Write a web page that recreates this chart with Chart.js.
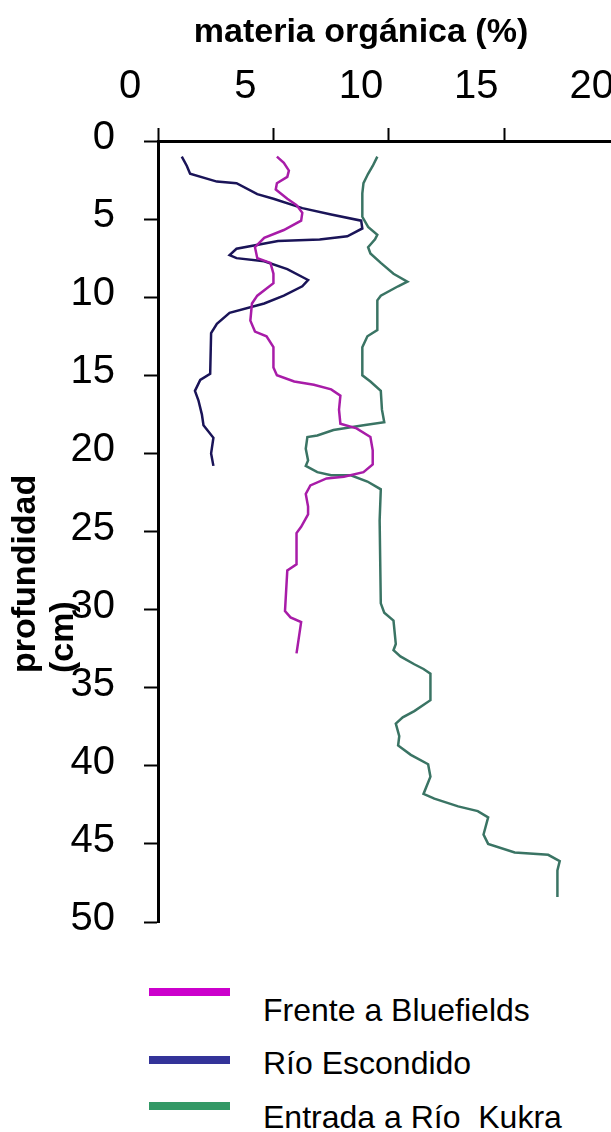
<!DOCTYPE html>
<html>
<head>
<meta charset="utf-8">
<script src="https://cdn.jsdelivr.net/npm/chart.js@4.4.1/dist/chart.umd.min.js"></script>
<style>
    body { margin: 0; background: #fff; width: 611px; height: 1132px; overflow: hidden; position: relative; }
    #wrap { position: absolute; left: 0; top: 0; }
    .swatch { position: absolute; left: 149px; width: 81px; height: 8px; }
    .label { position: absolute; left: 263px; font: 32px/32px "Liberation Sans", Arial, sans-serif; color: #000; white-space: pre; }
</style>
</head>
<body>
<div id="wrap"><canvas id="moChart" width="659" height="975"></canvas></div>

<div class="swatch" style="top:988px; background:#cc00cc"></div>
<div class="label" style="top:994px">Frente a Bluefields</div>
<div class="swatch" style="top:1056px; background:#333399"></div>
<div class="label" style="top:1047px">Río Escondido</div>
<div class="swatch" style="top:1102px; background:#339966"></div>
<div class="label" style="top:1101px">Entrada a Río  Kukra</div>

<script>
'use strict'

// profundidad (cm) y materia orgánica (%) por estación
const bluefieldsDepth = [1.0, 1.4, 1.9, 2.3, 2.7, 3.1, 3.7, 4.1, 4.6, 5.1, 5.7, 6.2, 6.8, 7.5, 7.8, 8.5, 9.1, 9.9, 10.4, 11.5,
    12.2, 12.5, 13.2, 14.5, 15.0, 15.4, 15.6, 15.9, 16.3, 17.2, 18.1, 18.4, 18.95, 19.8, 20.7, 21.2, 21.5, 21.6, 22.05, 22.6,
    23.4, 23.9, 24.7, 25.1, 27.1, 27.5, 30.1, 30.5, 30.8, 32.8];
const bluefieldsMO = [5.15, 5.45, 5.67, 5.6, 5.15, 5.1, 5.6, 6.0, 6.25, 6.2, 5.45, 4.6, 4.2, 4.3, 4.87, 5.0, 5.0, 4.3, 4.07, 4.0,
    4.2, 4.7, 5.0, 5.0, 5.15, 5.9, 6.75, 7.5, 7.9, 7.84, 7.9, 8.6, 9.2, 9.3, 9.3, 8.9, 8.05, 7.3, 6.6, 6.4,
    6.5, 6.5, 6.2, 6.0, 6.0, 5.6, 5.5, 5.74, 6.2, 6.0];

const escondidoDepth = [1.0, 1.6, 2.1, 2.6, 2.7, 3.4, 3.7, 4.3, 4.7, 5.1, 5.6, 6.1, 6.3, 6.4, 6.9, 7.3, 7.5, 7.7, 8.2, 8.9,
    9.3, 9.9, 10.4, 11.0, 11.7, 12.3, 14.9, 15.3, 16.0, 16.6, 17.5, 18.2, 19.0, 20.0, 20.8];
const escondidoMO = [1.03, 1.25, 1.39, 2.55, 3.4, 4.3, 5.0, 6.25, 7.5, 8.8, 8.85, 8.2, 7.0, 5.2, 3.4, 3.1, 3.4, 4.6, 5.6, 6.5,
    6.25, 5.45, 4.6, 3.1, 2.55, 2.3, 2.26, 1.83, 1.6, 1.75, 1.9, 1.97, 2.4, 2.3, 2.4];

const kukraDepth = [1.0, 1.6, 2.1, 2.7, 3.35, 4.85, 5.5, 6.0, 6.3, 6.8, 7.2, 7.8, 8.5, 9.0, 9.3, 9.9, 10.2, 12.1, 12.5, 13.2,
    15.0, 15.4, 16.0, 17.2, 18.0, 18.2, 18.5, 18.85, 18.95, 19.7, 20.45, 20.8, 21.2, 21.4, 21.4, 21.8, 22.3, 24.3, 29.6, 30.2,
    30.7, 32.2, 32.6, 33.0, 33.5, 33.8, 34.1, 35.8, 36.5, 36.9, 37.3, 38.1, 38.7, 39.3, 39.9, 40.7, 41.8, 42.1, 42.6, 42.9,
    43.3, 44.4, 45.0, 45.55, 45.7, 46.1, 46.7, 47.8, 48.4];
const kukraMO = [9.5, 9.3, 9.1, 8.9, 8.85, 8.85, 9.1, 9.5, 9.4, 9.1, 9.2, 9.65, 10.2, 10.8, 10.4, 9.65, 9.5, 9.5, 9.07, 8.85,
    8.85, 9.2, 9.65, 9.7, 9.8, 8.9, 7.6, 6.9, 6.47, 6.4, 6.5, 6.4, 6.9, 7.5, 8.35, 9.07, 9.65, 9.6, 9.65, 9.8,
    10.2, 10.3, 10.2, 10.5, 11.1, 11.5, 11.8, 11.8, 11.1, 10.6, 10.3, 10.45, 10.4, 10.95, 11.7, 11.8, 11.5, 11.97, 13.0, 13.85,
    14.3, 14.1, 14.3, 15.45, 16.9, 17.4, 17.3, 17.3, 17.3];

const moTicks = [0, 5, 10, 15, 20];
const depthTicks = [0, 5, 10, 15, 20, 25, 30, 35, 40, 45, 50];

function toPoints(depth, mo) {
    return depth.map((d, i) => ({ x: mo[i], y: d }));
}

const tickFont = { family: '"Liberation Sans", Arial, sans-serif', size: 40 };

// titulos de los ejes, dibujados a mano para poder colocarlos
const axisTitles = {
    id: 'axisTitles',
    afterDraw(chart) {
        const ctx = chart.ctx;
        ctx.save();
        ctx.fillStyle = '#000';
        ctx.font = 'bold 34px "Liberation Sans", Arial, sans-serif';
        ctx.textAlign = 'center';
        ctx.textBaseline = 'alphabetic';
        ctx.fillText('materia orgánica (%)', 361, 42);

        ctx.translate(35, 673);
        ctx.rotate(-Math.PI / 2);
        ctx.textAlign = 'left';
        ctx.fillText('profundidad', 0, 0);
        ctx.fillText('(cm)', 0, 38);
        ctx.restore();
    }
};

function lineSet(label, data, color) {
    return {
        label: label,
        data: data,
        showLine: true,
        borderColor: color,
        backgroundColor: color,
        borderWidth: 2.5,
        pointRadius: 0,
        tension: 0,
        fill: false
    };
}

const ctx = document.getElementById('moChart').getContext('2d');

new Chart(ctx, {
    type: 'scatter',
    data: {
        datasets: [
            lineSet('Frente a Bluefields', toPoints(bluefieldsDepth, bluefieldsMO), '#a81ca8'),
            lineSet('Río Escondido', toPoints(escondidoDepth, escondidoMO), '#1a1458'),
            lineSet('Entrada a Río  Kukra', toPoints(kukraDepth, kukraMO), '#3a7464')
        ]
    },
    options: {
        responsive: false,
        animation: false,
        layout: { padding: { top: 40, left: 0, right: 0, bottom: 0 } },
        plugins: {
            legend: { display: false },
            tooltip: { enabled: false }
        },
        scales: {
            x: {
                type: 'linear',
                position: 'top',
                min: 0,
                max: 20,
                afterFit(scale) { scale.height = 101; },
                afterBuildTicks(scale) { scale.ticks = moTicks.map(v => ({ value: v })); },
                grid: { drawOnChartArea: false, drawTicks: true, tickLength: 13, tickColor: '#000', tickWidth: 2 },
                border: { display: true, color: '#000', width: 3 },
                ticks: { color: '#000', font: tickFont, padding: 17, labelOffset: -28, autoSkip: false, maxRotation: 0 }
            },
            y: {
                type: 'linear',
                reverse: true,
                min: 0,
                max: 50,
                afterFit(scale) { scale.width = 158; },
                afterBuildTicks(scale) { scale.ticks = depthTicks.map(v => ({ value: v })); },
                grid: { drawOnChartArea: false, drawTicks: true, tickLength: 14, tickColor: '#000', tickWidth: 2 },
                border: { display: true, color: '#000', width: 3 },
                ticks: { color: '#000', font: tickFont, padding: 29, labelOffset: -3, autoSkip: false }
            }
        }
    },
    plugins: [axisTitles]
});
</script>
</body>
</html>
